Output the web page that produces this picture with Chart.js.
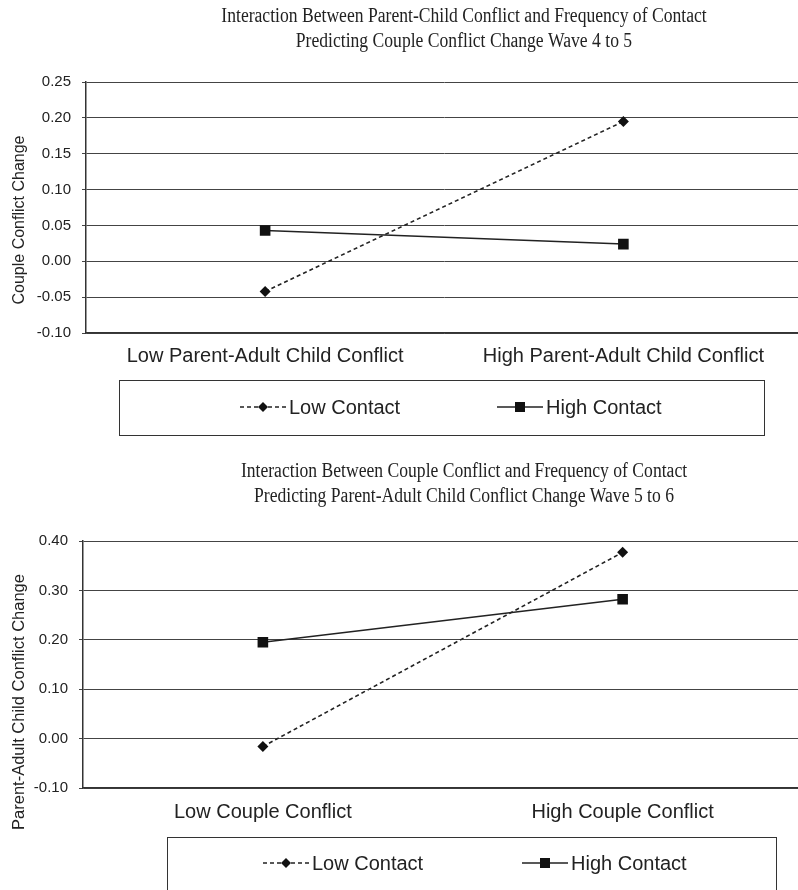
<!DOCTYPE html>
<html>
<head>
<meta charset="utf-8">
<script src="https://cdn.jsdelivr.net/npm/chart.js@4.4.0/dist/chart.umd.min.js"></script>
<style>
    html, body { margin: 0; padding: 0; background: #fff; }
    #wrap { width: 798px; height: 890px; overflow: hidden; position: relative; }
    canvas { position: absolute; left: 0; }
</style>
</head>
<body>
<div id="wrap">
    <canvas id="topChart" width="810" height="445" style="top:0"></canvas>
    <canvas id="bottomChart" width="810" height="445" style="top:445px"></canvas>
</div>
<script>
// Top panel: couple conflict change wave 4 to 5
const topTitle = ['Interaction Between Parent-Child Conflict and Frequency of Contact',
                  'Predicting Couple Conflict Change Wave 4 to 5'];
const topCategories = ['Low Parent-Adult Child Conflict', 'High Parent-Adult Child Conflict'];
const topLowContact = [-0.042, 0.195];
const topHighContact = [0.043, 0.024];
const topYTitle = 'Couple Conflict Change';
const topYMin = -0.10, topYMax = 0.25, topYStep = 0.05;

// Bottom panel: parent-adult child conflict change wave 5 to 6
const bottomTitle = ['Interaction Between Couple Conflict and Frequency of Contact',
                     'Predicting Parent-Adult Child Conflict Change Wave 5 to 6'];
const bottomCategories = ['Low Couple Conflict', 'High Couple Conflict'];
const bottomLowContact = [-0.016, 0.377];
const bottomHighContact = [0.195, 0.282];
const bottomYTitle = 'Parent-Adult Child Conflict Change';
const bottomYMin = -0.10, bottomYMax = 0.40, bottomYStep = 0.10;

const seriesNames = ['Low Contact', 'High Contact'];

const ink = '#222';
const sans = '"Liberation Sans", Arial, sans-serif';
const serif = '"Liberation Serif", "Times New Roman", serif';

function drawMarker(ctx, style, x, y) {
    ctx.beginPath();
    if (style === 'rectRot') {
        ctx.moveTo(x, y - 5);
        ctx.lineTo(x + 5, y);
        ctx.lineTo(x, y + 5);
        ctx.lineTo(x - 5, y);
    } else {
        ctx.rect(x - 5, y - 5, 10, 10);
    }
    ctx.closePath();
    ctx.fill();
}

// draws titles, rotated y title and the boxed legend
const overlay = {
    id: 'overlay',
    afterDraw(chart, args, opts) {
        const ctx = chart.ctx;
        ctx.save();
        ctx.fillStyle = ink;
        ctx.textAlign = 'center';
        ctx.textBaseline = 'middle';
        ctx.font = '20px ' + serif;
        opts.title.forEach((line, i) => {
            // the original title is set in a condensed serif
            ctx.save();
            ctx.translate(opts.titleX, opts.titleY[i]);
            ctx.scale(0.88, 1);
            ctx.fillText(line, 0, 0);
            ctx.restore();
        });

        ctx.save();
        ctx.translate(opts.yTitleX, opts.yTitleY);
        ctx.rotate(-Math.PI / 2);
        ctx.font = opts.yTitleSize + 'px ' + sans;
        ctx.fillText(opts.yTitle, 0, 0);
        ctx.restore();

        const b = opts.legendBox;
        ctx.strokeStyle = '#333';
        ctx.lineWidth = 1;
        ctx.strokeRect(b.x + 0.5, b.y + 0.5, b.w, b.h);

        ctx.font = '20px ' + sans;
        ctx.textAlign = 'left';
        chart.data.datasets.forEach((ds, i) => {
            const x0 = opts.legendX[i];
            const y = opts.legendY;
            ctx.strokeStyle = ink;
            ctx.lineWidth = 1.5;
            ctx.setLineDash(ds.borderDash || []);
            ctx.beginPath();
            ctx.moveTo(x0, y);
            ctx.lineTo(x0 + 46, y);
            ctx.stroke();
            ctx.setLineDash([]);
            ctx.fillStyle = '#111';
            drawMarker(ctx, ds.pointStyle, x0 + 23, y);
            ctx.fillStyle = ink;
            ctx.fillText(ds.label, x0 + 49, y + 1);
        });
        ctx.restore();
    }
};

function makeChart(id, categories, low, high, yMin, yMax, yStep, geo) {
    const ctx = document.getElementById(id).getContext('2d');
    return new Chart(ctx, {
        type: 'line',
        data: {
            labels: categories,
            datasets: [
                {
                    label: seriesNames[0],
                    data: low,
                    borderColor: ink,
                    borderWidth: 1.6,
                    borderDash: [4, 3],
                    pointStyle: 'rectRot',
                    pointRadius: 5.5,
                    pointBackgroundColor: '#111',
                    pointBorderColor: '#111',
                    pointBorderWidth: 0
                },
                {
                    label: seriesNames[1],
                    data: high,
                    borderColor: ink,
                    borderWidth: 1.5,
                    pointStyle: 'rect',
                    pointRadius: 7.5,
                    pointBackgroundColor: '#111',
                    pointBorderColor: '#111',
                    pointBorderWidth: 0
                }
            ]
        },
        options: {
            responsive: false,
            animation: false,
            layout: { padding: { left: 0, right: 0, top: geo.top, bottom: 0 } },
            plugins: {
                legend: { display: false },
                tooltip: { enabled: false },
                overlay: geo.overlay
            },
            scales: {
                x: {
                    offset: true,
                    grid: { display: false, drawTicks: false },
                    border: { display: true, color: '#333', width: 1.5 },
                    ticks: { color: ink, font: { family: sans, size: 20 }, padding: geo.labelPad, maxRotation: 0 },
                    afterFit: scale => { scale.height = 445 - geo.bottom; }
                },
                y: {
                    min: yMin,
                    max: yMax,
                    grid: { color: '#444', lineWidth: 1, tickLength: 4 },
                    border: { display: true, color: '#333', width: 1.5 },
                    ticks: {
                        stepSize: yStep,
                        color: ink,
                        padding: 11,
                        font: { family: sans, size: 15 },
                        callback: v => (Math.abs(v) < 1e-9 ? 0 : v).toFixed(2)
                    },
                    afterFit: scale => { scale.width = geo.left; }
                }
            }
        },
        plugins: [overlay]
    });
}

makeChart('topChart', topCategories, topLowContact, topHighContact, topYMin, topYMax, topYStep, {
    left: 86, top: 82, bottom: 333, labelPad: 11,
    overlay: {
        title: topTitle, titleX: 464, titleY: [17, 42],
        yTitle: topYTitle, yTitleSize: 16, yTitleX: 20, yTitleY: 220,
        legendBox: { x: 119, y: 380, w: 645, h: 55 },
        legendX: [240, 497], legendY: 407
    }
});

makeChart('bottomChart', bottomCategories, bottomLowContact, bottomHighContact, bottomYMin, bottomYMax, bottomYStep, {
    left: 83, top: 96, bottom: 343, labelPad: 12,
    overlay: {
        title: bottomTitle, titleX: 464, titleY: [27, 52],
        yTitle: bottomYTitle, yTitleSize: 16.5, yTitleX: 19, yTitleY: 257,
        legendBox: { x: 167, y: 392, w: 609, h: 80 },
        legendX: [263, 522], legendY: 418
    }
});
</script>
</body>
</html>
